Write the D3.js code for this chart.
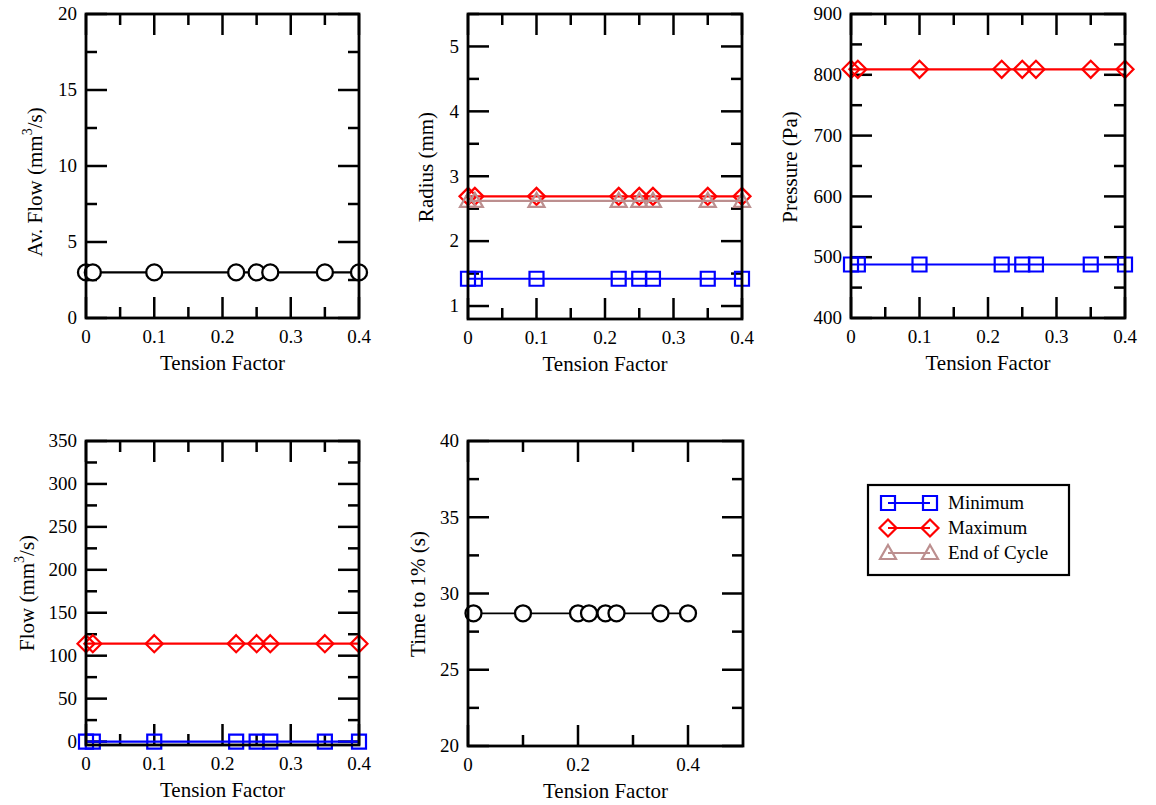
<!DOCTYPE html>
<html>
<head>
<meta charset="utf-8">
<script src="https://cdn.jsdelivr.net/npm/d3@7"></script>
<style>
body { margin:0; background:#fff; }
svg text { font-family: "Liberation Serif", "Times New Roman", "DejaVu Serif", serif; fill:#000; }
</style>
</head>
<body>
<div id="chart"></div>
<script>
// data
var tension = [0, 0.01, 0.1, 0.22, 0.25, 0.27, 0.35, 0.4];
var tension5 = [0.01, 0.1, 0.2, 0.22, 0.25, 0.27, 0.35, 0.4];
var avFlow = [3, 3, 3, 3, 3, 3, 3, 3];
var radiusMin = [1.42, 1.42, 1.42, 1.42, 1.42, 1.42, 1.42, 1.42];
var radiusMax = [2.69, 2.69, 2.69, 2.69, 2.69, 2.69, 2.69, 2.69];
var radiusEnd = [2.62, 2.62, 2.62, 2.62, 2.62, 2.62, 2.62, 2.62];
var pressureMin = [488, 488, 488, 488, 488, 488, 488, 488];
var pressureMax = [809, 809, 809, 809, 809, 809, 809, 809];
var flowMin = [0, 0, 0, 0, 0, 0, 0, 0];
var flowMax = [114, 114, 114, 114, 114, 114, 114, 114];
var timeTo1 = [28.7, 28.7, 28.7, 28.7, 28.7, 28.7, 28.7, 28.7];
var legendNames = ["Minimum", "Maximum", "End of Cycle"];

var W = 1156, H = 805;
var FONT = "'Liberation Serif', 'Times New Roman', 'DejaVu Serif', serif";
var svg = d3.select("#chart").append("svg").attr("width", W).attr("height", H)
	.attr("font-family", FONT);

var sty = {
	min: {color:"#0000ff", sym:"square"},
	max: {color:"#ff0000", sym:"diamond"},
	end: {color:"#bc8f8f", sym:"triangle"},
	blk: {color:"#000000", sym:"circle"}
};

function symPath(s){
	if(s=="square") return "M-7,-7H7V7H-7Z";
	if(s=="diamond") return "M0,-8.5L8.5,0L0,8.5L-8.5,0Z";
	if(s=="triangle") return "M0,-8L8,6H-8Z";
	return null;
}

function drawSym(g, s, color, x, y){
	if(s=="circle"){
		g.append("circle").attr("cx",x).attr("cy",y).attr("r",8)
			.style("fill","#fff").style("stroke",color).style("stroke-width",2.3);
	} else {
		g.append("path").attr("d",symPath(s)).attr("transform","translate("+x+","+y+")")
			.style("fill","none").style("stroke",color).style("stroke-width",2.2);
	}
}

function tickFmt(d){ return Math.abs(d) < 1e-9 ? "0" : (d % 1 === 0 ? d3.format("d")(d) : d3.format(".1f")(d)); }

function range(a, b, step){
	var out = [], n = Math.round((b - a)/step);
	for(var i=0;i<=n;i++) out.push(+(a + i*step).toFixed(6));
	return out;
}

function txt(sel){ return sel.style("font-family", FONT); }

function panel(p){
	var g = svg.append("g");
	var X = d3.scaleLinear().domain(p.xd).range([p.x0, p.x1]);
	var Y = d3.scaleLinear().domain(p.yd).range([p.y1, p.y0]);

	var xMaj = range(p.xt[0], p.xt[1], p.xt[2]);
	var xMin = range(p.xt[0], p.xt[1], p.xt[3]).filter(function(v){ return xMaj.every(function(m){return Math.abs(m-v)>1e-6;}); });
	var yMaj = range(p.yt[0], p.yt[1], p.yt[2]);
	var yMin = range(p.yt[0], p.yt[1], p.yt[3]).filter(function(v){ return yMaj.every(function(m){return Math.abs(m-v)>1e-6;}); });

	var tk = g.append("g").style("stroke","#000").style("stroke-width",2.5);
	function inside(v, dom){ return v >= Math.min(dom[0],dom[1]) - 1e-9 && v <= Math.max(dom[0],dom[1]) + 1e-9; }
	[[xMaj,21],[xMin,11]].forEach(function(t){
		t[0].filter(function(v){return inside(v,p.xd);}).forEach(function(v){
			var x = X(v);
			tk.append("line").attr("x1",x).attr("x2",x).attr("y1",p.y1).attr("y2",p.y1-t[1]);
			tk.append("line").attr("x1",x).attr("x2",x).attr("y1",p.y0).attr("y2",p.y0+t[1]);
		});
	});
	[[yMaj,21],[yMin,11]].forEach(function(t){
		t[0].filter(function(v){return inside(v,p.yd);}).forEach(function(v){
			var y = Y(v);
			tk.append("line").attr("y1",y).attr("y2",y).attr("x1",p.x0).attr("x2",p.x0+t[1]);
			tk.append("line").attr("y1",y).attr("y2",y).attr("x1",p.x1).attr("x2",p.x1-t[1]);
		});
	});

	// tick labels
	txt(g.selectAll(".xl").data(xMaj.filter(function(v){return inside(v,p.xd) && v <= p.xlabMax;})).enter().append("text")
		.attr("x",function(d){return X(d);}).attr("y",p.y1+25)
		.attr("text-anchor","middle").style("font-size","19px").text(tickFmt));
	txt(g.selectAll(".yl").data(yMaj.filter(function(v){return inside(v,p.yd);})).enter().append("text")
		.attr("x",p.x0-9).attr("y",function(d){return Y(d);}).attr("dy","0.33em")
		.attr("text-anchor","end").style("font-size","19px").text(tickFmt));

	// axis titles
	txt(g.append("text").attr("x",(p.x0+p.x1)/2).attr("y",p.y1+52).attr("text-anchor","middle")
		.style("font-size","21px").text("Tension Factor"));
	var yt = txt(g.append("text").attr("transform","translate("+(p.x0-p.labOff)+","+p.labY+") rotate(-90)")
		.attr("text-anchor","middle").style("font-size","21px"));
	p.ylabel.forEach(function(part){
		var ts = yt.append("tspan").text(part.t);
		if(part.sup) ts.attr("dy",-10).style("font-size","14px");
		if(part.after) ts.attr("dy",10);
	});

	// series
	var line = d3.line().x(function(d){return X(d[0]);}).y(function(d){return Y(d[1]);});
	p.series.forEach(function(s){
		var pts = s.x.map(function(v,i){return [v, s.y[i]];});
		g.append("path").attr("d",line(pts)).style("fill","none")
			.style("stroke",s.st.color).style("stroke-width",s.lw || 2.2);
		var mg = g.append("g");
		pts.forEach(function(d){ drawSym(mg, s.st.sym, s.st.color, X(d[0]), Y(d[1])); });
	});

	// frame
	g.append("rect").attr("x",p.x0).attr("y",p.y0).attr("width",p.x1-p.x0).attr("height",p.y1-p.y0)
		.style("fill","none").style("stroke","#000").style("stroke-width",2.8);
}

var flowLabel = [{t:"Av. Flow (mm"},{t:"3",sup:true},{t:"/s)",after:true}];

panel({x0:86,x1:359,y0:14,y1:318, xd:[0,0.4], xt:[0,0.4,0.1,0.05], xlabMax:0.4,
	yd:[0,20], yt:[0,20,5,2.5], labOff:44, labY:182, ylabel:flowLabel,
	series:[{x:tension, y:avFlow, st:sty.blk}]});

panel({x0:468,x1:742,y0:14,y1:319, xd:[0,0.4], xt:[0,0.4,0.1,0.05], xlabMax:0.4,
	yd:[0.8,5.5], yt:[1,5.5,1,0.5], labOff:35, labY:167, ylabel:[{t:"Radius (mm)"}],
	series:[{x:tension, y:radiusMin, st:sty.min},{x:tension, y:radiusMax, st:sty.max},{x:tension, y:radiusEnd, st:sty.end}]});

panel({x0:851,x1:1125,y0:14,y1:318, xd:[0,0.4], xt:[0,0.4,0.1,0.05], xlabMax:0.4,
	yd:[400,900], yt:[400,900,100,50], labOff:54, labY:167, ylabel:[{t:"Pressure (Pa)"}],
	series:[{x:tension, y:pressureMin, st:sty.min},{x:tension, y:pressureMax, st:sty.max}]});

panel({x0:86,x1:359,y0:441,y1:745, xd:[0,0.4], xt:[0,0.4,0.1,0.05], xlabMax:0.4,
	yd:[-4,350], yt:[0,350,50,25], labOff:52, labY:593, ylabel:[{t:"Flow (mm"},{t:"3",sup:true},{t:"/s)",after:true}],
	series:[{x:tension, y:flowMax, st:sty.max},{x:tension, y:flowMin, st:sty.min}]});

panel({x0:468,x1:743,y0:441,y1:746, xd:[0,0.5], xt:[0,0.4,0.2,0.1], xlabMax:0.4,
	yd:[20,40], yt:[20,40,5,2.5], labOff:43, labY:594, ylabel:[{t:"Time to 1% (s)"}],
	series:[{x:tension5, y:timeTo1, st:sty.blk, lw:1.6}]});

// legend
var lg = svg.append("g");
lg.append("rect").attr("x",868).attr("y",485).attr("width",201).attr("height",90)
	.style("fill","#fff").style("stroke","#000").style("stroke-width",2.2);
[sty.min, sty.max, sty.end].forEach(function(s,i){
	var y = 503 + i*25;
	lg.append("line").attr("x1",888).attr("x2",930).attr("y1",y).attr("y2",y)
		.style("stroke",s.color).style("stroke-width",2);
	drawSym(lg, s.sym, s.color, 888, y);
	drawSym(lg, s.sym, s.color, 930, y);
	txt(lg.append("text").attr("x",948).attr("y",y).attr("dy","0.33em")
		.style("font-size","19px").text(legendNames[i]));
});
</script>
</body>
</html>
